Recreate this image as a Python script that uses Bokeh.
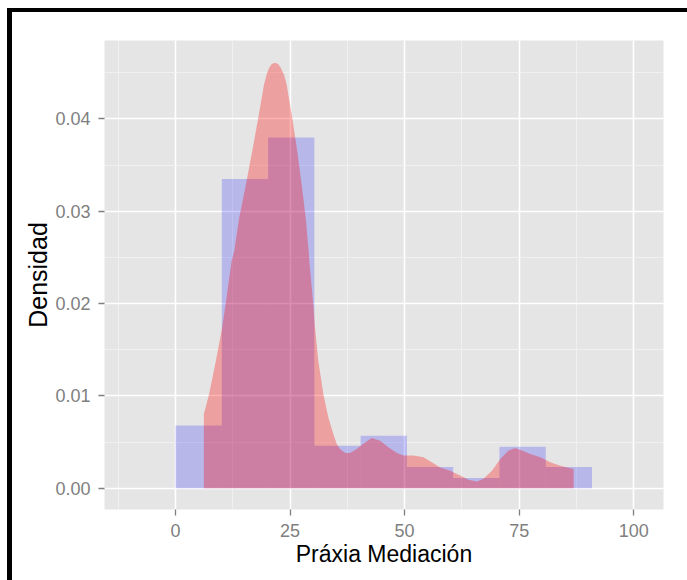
from bokeh.plotting import figure
from bokeh.layouts import column
from bokeh.models import FixedTicker, PrintfTickFormatter, ColumnDataSource
from bokeh.embed import file_html
from bokeh.resources import INLINE

# Histogram of "Práxia Mediación" (density scale)
bin_left = [0.0, 10.1, 20.2, 30.3, 40.4, 50.5, 60.6, 70.7, 80.8]
bin_right = [10.1, 20.2, 30.3, 40.4, 50.5, 60.6, 70.7, 80.8, 90.9]
bin_density = [0.0068, 0.0335, 0.0380, 0.0046, 0.0057, 0.0023, 0.0011, 0.0045, 0.0023]

# Kernel density estimate of the same variable
kde_x = [6.18, 7.34, 8.81, 10.18, 10.93, 12.24, 12.81, 13.90, 15.36, 16.74, 18.05,
         19.30, 20.00, 20.50, 21.00, 21.70, 22.40, 22.90, 23.70, 24.26, 25.48, 26.57,
         27.53, 28.41, 29.06, 29.24, 30.07, 30.44,
         31.16, 32.26, 33.35, 34.44, 35.18, 35.90, 37.00, 38.09, 39.55, 41.37, 42.83,
         44.65, 46.46, 48.30, 49.74, 51.92, 54.11, 55.94, 57.76, 59.94, 62.13, 63.94,
         65.78, 67.22, 69.06, 70.87, 72.68, 74.15, 75.61, 77.43, 79.61, 81.80, 83.98,
         86.89]
kde_y = [0.00804, 0.01021, 0.01381, 0.01741, 0.01994, 0.02462, 0.02570, 0.02930,
         0.03291, 0.03651, 0.04011, 0.04372, 0.04500, 0.04560, 0.04595, 0.04610,
         0.04595, 0.04560, 0.04480, 0.04372, 0.04011, 0.03651,
         0.03291, 0.02930, 0.02570, 0.02440, 0.01994, 0.01741, 0.01381, 0.01021,
         0.00770, 0.00588, 0.00480, 0.00426, 0.00383, 0.00383, 0.00426, 0.00497,
         0.00545, 0.00516, 0.00443, 0.00383, 0.00354, 0.00354, 0.00335, 0.00281,
         0.00224, 0.00191, 0.00137, 0.00091, 0.00072, 0.00102, 0.00191, 0.00318,
         0.00408, 0.00437, 0.00408, 0.00372, 0.00335, 0.00281, 0.00245, 0.00210]

x_ticks = [0, 25, 50, 75, 100]
x_minor = [-12.5, 12.5, 37.5, 62.5, 87.5]
y_ticks = [0.0, 0.01, 0.02, 0.03, 0.04]
y_minor = [0.005, 0.015, 0.025, 0.035, 0.045]

FONT = "Liberation Sans"
TICK_GREY = "#7F7F7F"

p = figure(
    frame_width=559, frame_height=469,
    x_range=(-15.5, 106.5), y_range=(-0.0023, 0.0485),
    output_backend="svg", toolbar_location=None,
    x_axis_label="Práxia Mediación", y_axis_label="Densidad",
    min_border_left=92, min_border_right=24, min_border_top=28, min_border_bottom=71,
)
p.background_fill_color = "#E5E5E5"
p.border_fill_color = "white"
p.outline_line_color = None

hist_src = ColumnDataSource(dict(left=bin_left, right=bin_right, top=bin_density,
                                 bottom=[0.0] * len(bin_density)))
p.quad(left="left", right="right", top="top", bottom="bottom", source=hist_src,
       fill_color="blue", fill_alpha=0.2, line_color=None)

kde_src = ColumnDataSource(dict(x=kde_x, y1=[0.0] * len(kde_x), y2=kde_y))
p.varea(x="x", y1="y1", y2="y2", source=kde_src, fill_color="red", fill_alpha=0.3)

# grid: white major lines, lighter minor lines
p.xaxis.ticker = FixedTicker(ticks=x_ticks, minor_ticks=x_minor)
p.yaxis.ticker = FixedTicker(ticks=y_ticks, minor_ticks=y_minor)
p.yaxis.formatter = PrintfTickFormatter(format="%.2f")

for g in (p.xgrid, p.ygrid):
    g.grid_line_color = "white"
    g.grid_line_width = 1.6
    g.minor_grid_line_color = "#F2F2F2"
    g.minor_grid_line_width = 0.8
    g.level = "underlay"

for ax in (p.xaxis, p.yaxis):
    ax.axis_line_color = None
    ax.major_tick_line_color = TICK_GREY
    ax.major_tick_line_width = 1.3
    ax.major_tick_out = 6
    ax.major_tick_in = 0
    ax.minor_tick_line_color = None
    ax.major_label_text_font = FONT
    ax.major_label_text_font_size = "18px"
    ax.major_label_text_color = TICK_GREY
    ax.axis_label_text_font = FONT
    ax.axis_label_text_font_style = "normal"
    ax.axis_label_text_color = "black"

p.xaxis.axis_label_text_font_size = "23px"
p.yaxis.axis_label_text_font_size = "25px"
p.xaxis.major_label_standoff = 8
p.xaxis.axis_label_standoff = 1
p.yaxis.major_label_standoff = 8
p.yaxis.axis_label_standoff = 0

layout = column(p, styles={
    "margin-left": "7px", "margin-top": "8px",
    "border-left": "5px solid black", "border-top": "4px solid black",
})

with open("out.html", "w") as f:
    f.write(file_html(layout, INLINE))
